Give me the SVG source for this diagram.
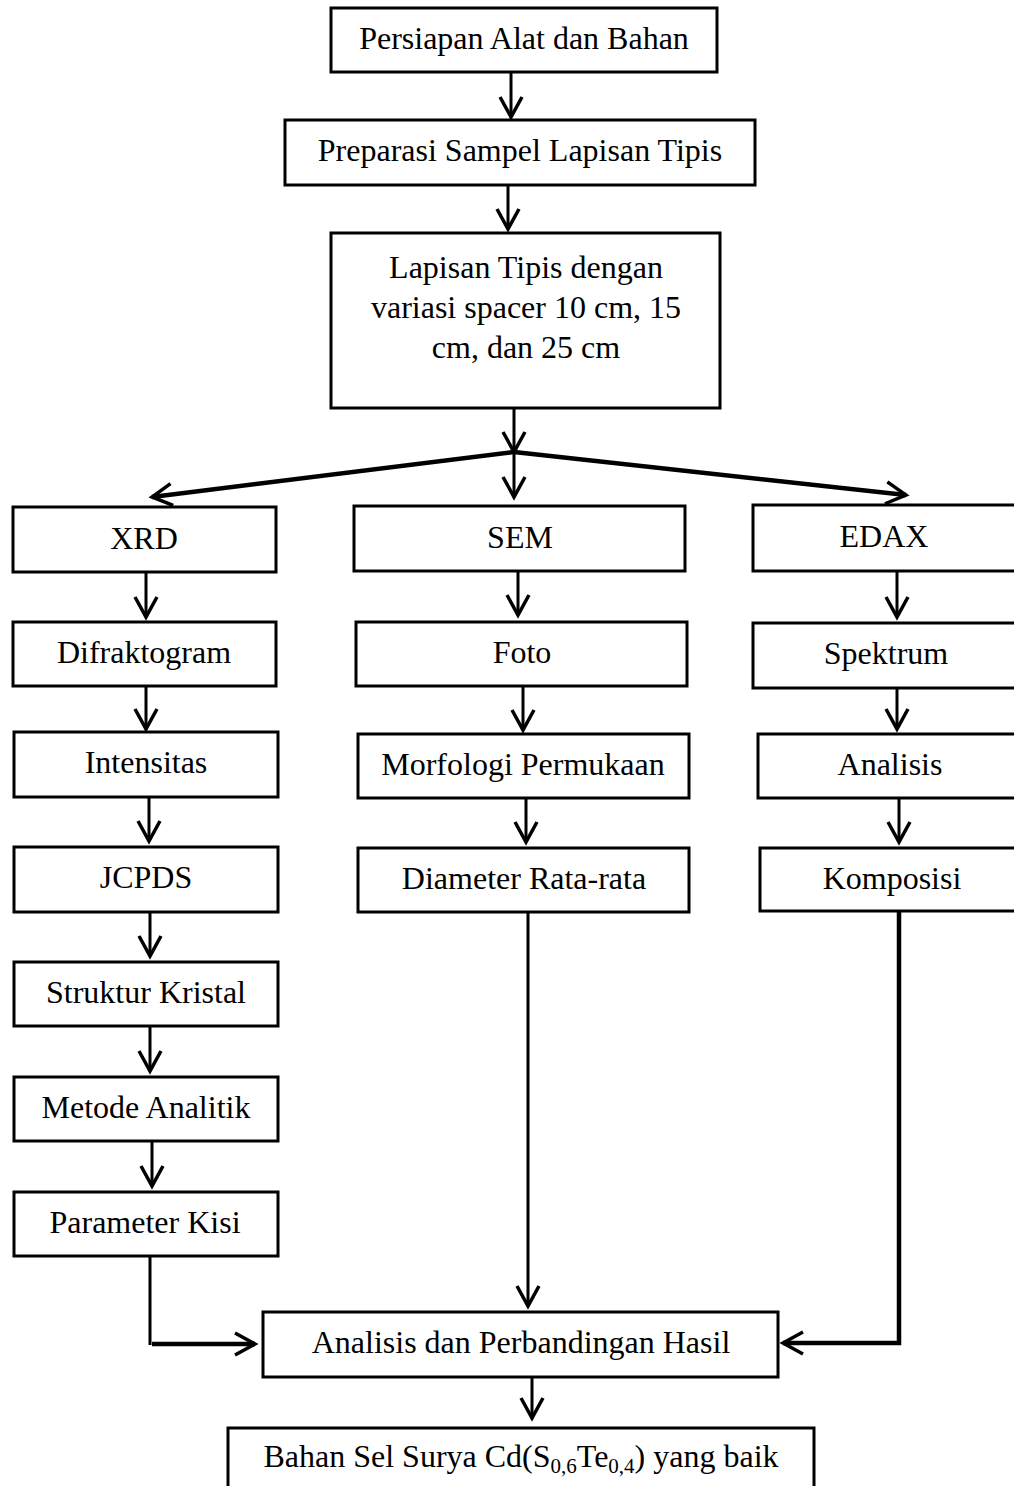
<svg xmlns="http://www.w3.org/2000/svg" width="1014" height="1486" viewBox="0 0 1014 1486">
<style>
.box{fill:#fff;stroke:#000;stroke-width:3}
.t{font-family:"Liberation Serif","Times New Roman",serif;font-size:32px;fill:#000;text-anchor:middle}
.c{fill:none;stroke:#000;stroke-width:3}
.ct{fill:none;stroke:#000;stroke-width:4.5}
.a{marker-end:url(#ah)}
</style>
<defs>
<marker id="ah" markerUnits="userSpaceOnUse" viewBox="-24 -14 28 28" markerWidth="28" markerHeight="28" refX="0" refY="0" orient="auto" overflow="visible">
<path d="M-20,-11 L0,0 L-20,11" fill="none" stroke="#000" stroke-width="3.5" stroke-linejoin="miter"/>
</marker>
</defs>
<rect width="1014" height="1486" fill="#fff"/>
<g id="connectors">
<path class="c a" d="M511,72 L511,117"/>
<path class="c a" d="M508,186 L508,229"/>
<path class="c a" d="M514,409 L514,452"/>
<path class="c a" d="M514,452 L514,497"/>
<path class="ct a" d="M514,452 L152,497"/>
<path class="ct a" d="M514,452 L906,495"/>
<path class="c a" d="M146,573 L146,617"/>
<path class="c a" d="M146,687 L146,729"/>
<path class="c a" d="M149,798 L149,841"/>
<path class="c a" d="M150,913 L150,956"/>
<path class="c a" d="M150,1027 L150,1071"/>
<path class="c a" d="M152,1142 L152,1186"/>
<path class="c" d="M150,1257 L150,1345"/>
<path class="ct a" d="M152,1344 L255,1344"/>
<path class="c a" d="M518,572 L518,615"/>
<path class="c a" d="M523,687 L523,730"/>
<path class="c a" d="M526,799 L526,842"/>
<path class="c a" d="M528,913 L528,1306"/>
<path class="c a" d="M897,572 L897,617"/>
<path class="c a" d="M897,689 L897,729"/>
<path class="c a" d="M899,799 L899,842"/>
<path class="ct a" d="M899,912 L899,1343 L783,1343"/>
<path class="c a" d="M532,1378 L532,1418"/>
</g>
<g id="n1"><rect class="box" x="331" y="8" width="386" height="64"/><text class="t" x="524" y="49">Persiapan Alat dan Bahan</text></g>
<g id="n2"><rect class="box" x="285" y="120" width="470" height="65"/><text class="t" x="520" y="161">Preparasi Sampel Lapisan Tipis</text></g>
<g id="n3"><rect class="box" x="331" y="233" width="389" height="175"/>
<text class="t" x="526" y="278">Lapisan Tipis dengan</text>
<text class="t" x="526" y="318">variasi spacer 10 cm, 15</text>
<text class="t" x="526" y="358">cm, dan 25 cm</text></g>
<g id="xrd"><rect class="box" x="13" y="507" width="263" height="65"/><text class="t" x="144" y="549">XRD</text></g>
<g id="difraktogram"><rect class="box" x="13" y="622" width="263" height="64"/><text class="t" x="144" y="663">Difraktogram</text></g>
<g id="intensitas"><rect class="box" x="14" y="732" width="264" height="65"/><text class="t" x="146" y="773">Intensitas</text></g>
<g id="jcpds"><rect class="box" x="14" y="847" width="264" height="65"/><text class="t" x="146" y="888">JCPDS</text></g>
<g id="struktur"><rect class="box" x="14" y="962" width="264" height="64"/><text class="t" x="146" y="1003">Struktur Kristal</text></g>
<g id="metode"><rect class="box" x="14" y="1077" width="264" height="64"/><text class="t" x="146" y="1118">Metode Analitik</text></g>
<g id="parameter"><rect class="box" x="14" y="1192" width="264" height="64"/><text class="t" x="145" y="1233">Parameter Kisi</text></g>
<g id="sem"><rect class="box" x="354" y="506" width="331" height="65"/><text class="t" x="520" y="548">SEM</text></g>
<g id="foto"><rect class="box" x="356" y="622" width="331" height="64"/><text class="t" x="522" y="663">Foto</text></g>
<g id="morfologi"><rect class="box" x="358" y="734" width="331" height="64"/><text class="t" x="523" y="775">Morfologi Permukaan</text></g>
<g id="diameter"><rect class="box" x="358" y="848" width="331" height="64"/><text class="t" x="524" y="889">Diameter Rata-rata</text></g>
<g id="edax"><rect class="box" x="753" y="505" width="270" height="66"/><text class="t" x="884" y="547">EDAX</text></g>
<g id="spektrum"><rect class="box" x="753" y="623" width="270" height="65"/><text class="t" x="886" y="664">Spektrum</text></g>
<g id="analisis"><rect class="box" x="758" y="734" width="265" height="64"/><text class="t" x="890" y="775">Analisis</text></g>
<g id="komposisi"><rect class="box" x="760" y="848" width="263" height="63"/><text class="t" x="892" y="889">Komposisi</text></g>
<g id="perbandingan"><rect class="box" x="263" y="1312" width="515" height="65"/><text class="t" x="521" y="1353">Analisis dan Perbandingan Hasil</text></g>
<g id="bahan"><rect class="box" x="228" y="1428" width="586" height="70"/><text class="t" x="521" y="1467">Bahan Sel Surya Cd(S<tspan font-size="21" dy="6">0,6</tspan><tspan dy="-6">Te</tspan><tspan font-size="21" dy="6">0,4</tspan><tspan dy="-6">) yang baik</tspan></text></g>
</svg>
